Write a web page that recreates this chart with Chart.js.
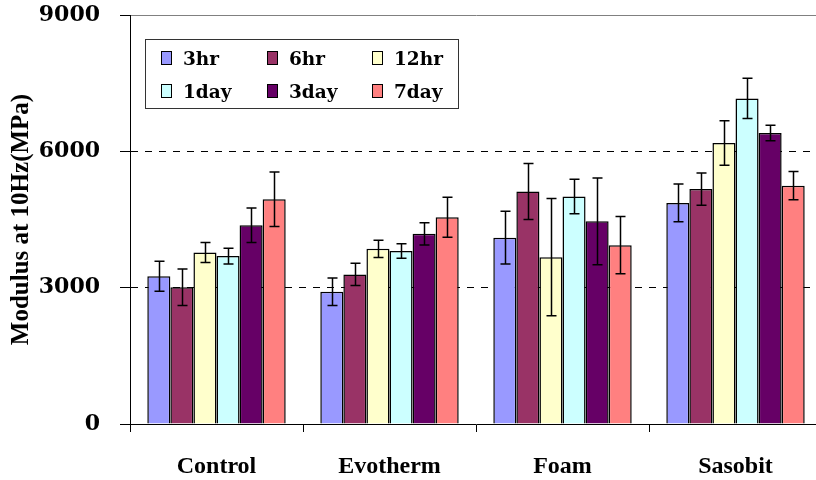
<!DOCTYPE html>
<html>
<head>
<meta charset="utf-8">
<title>Modulus at 10Hz</title>
<script src="https://cdn.jsdelivr.net/npm/chart.js@4"></script>
<style>
    html, body { margin: 0; padding: 0; background: #fff; overflow: hidden; }
    #wrap { width: 816px; height: 480px; overflow: hidden; }
</style>
</head>
<body>
<div id="wrap"><canvas id="chart" width="824" height="480"></canvas></div>
<script>
///////////////////////////////////////////////////////////////////////////////
// data
const categories   = ["Control", "Evotherm", "Foam", "Sasobit"];
const seriesLabels = ["3hr", "6hr", "12hr", "1day", "3day", "7day"];
const seriesColors = ["#9999FF", "#993366", "#FFFFCC", "#CCFFFF", "#660066", "#FF8080"];

// mean values (MPa)
const hr3  = [3250, 2910, 4100, 4865];
const hr6  = [3010, 3290, 5115, 5170];
const hr12 = [3775, 3855, 3670, 6185];
const day1 = [3695, 3805, 5005, 7165];
const day3 = [4375, 4185, 4460, 6405];
const day7 = [4945, 4550, 3935, 5245];

// error bar half-lengths (MPa)
const hr3Err  = [330, 300, 580, 415];
const hr6Err  = [400, 245, 615, 355];
const hr12Err = [220, 190, 1290, 490];
const day1Err = [175, 160, 380, 445];
const day3Err = [380, 245, 955, 170];
const day7Err = [600, 440, 630, 310];

const yTicks = [0, 3000, 6000, 9000];

const seriesValues = [hr3, hr6, hr12, day1, day3, day7];
const seriesErrors = [hr3Err, hr6Err, hr12Err, day1Err, day3Err, day7Err];


///////////////////////////////////////////////////////////////////////////////
// draws error bars on top of every bar, through the y scale
const errorBarPlugin =
{
    id: "errorBars",
    afterDatasetsDraw(chart)
    {
        let ctx = chart.ctx;
        let yScale = chart.scales.y;
        ctx.save();
        ctx.strokeStyle = "#000";
        ctx.lineWidth = 1.5;
        chart.data.datasets.forEach((ds, i) =>
        {
            let meta = chart.getDatasetMeta(i);
            meta.data.forEach((bar, j) =>
            {
                let v = ds.data[j];
                let e = ds.errors[j];
                let yHi = yScale.getPixelForValue(v + e);
                let yLo = yScale.getPixelForValue(v - e);
                let x = Math.round(bar.x) + 0.5;
                ctx.beginPath();
                ctx.moveTo(x, yHi);
                ctx.lineTo(x, yLo);
                ctx.moveTo(x - 5, yHi);
                ctx.lineTo(x + 5, yHi);
                ctx.moveTo(x - 5, yLo);
                ctx.lineTo(x + 5, yLo);
                ctx.stroke();
            });
        });
        ctx.restore();
    }
};

// boxed legend in the top-left of the plot, 3 columns x 2 rows
const boxLegendPlugin =
{
    id: "boxLegend",
    afterDraw(chart)
    {
        let ctx = chart.ctx;
        let colX = [161, 267, 372];
        let rowY = [58, 91];
        ctx.save();
        ctx.fillStyle = "#fff";
        ctx.fillRect(145, 39, 313, 69);
        ctx.strokeStyle = "#333";
        ctx.lineWidth = 1;
        ctx.strokeRect(145.5, 39.5, 313, 69);

        ctx.font = "bold 18.5px 'DejaVu Serif'";
        ctx.textBaseline = "alphabetic";
        chart.data.datasets.forEach((ds, i) =>
        {
            let x = colX[i % 3];
            let y = rowY[Math.floor(i / 3)];
            ctx.fillStyle = ds.backgroundColor;
            ctx.fillRect(x, y - 7, 11, 14);
            ctx.strokeStyle = "#000";
            ctx.strokeRect(x + 0.5, y - 6.5, 10, 13);
            ctx.fillStyle = "#000";
            ctx.fillText(ds.label, x + 22, y + 7);
        });
        ctx.restore();
    }
};


///////////////////////////////////////////////////////////////////////////////
document.addEventListener("DOMContentLoaded", e =>
{
    let context = document.getElementById("chart").getContext("2d");

    let datasets = seriesLabels.map((label, i) => ({
        label: label,
        data: seriesValues[i],
        errors: seriesErrors[i],
        backgroundColor: seriesColors[i],
        borderColor: "#000",
        borderWidth: 1.5,
        categoryPercentage: 0.8,
        barPercentage: 1.0
    }));

    new Chart(context,
    {
        type: "bar",
        data: { labels: categories, datasets: datasets },
        plugins: [errorBarPlugin, boxLegendPlugin],
        options:
        {
            responsive: false,
            animation: false,
            devicePixelRatio: 1,
            layout: { padding: { left: 0, right: 2, top: 15, bottom: 0 } },
            plugins:
            {
                legend: { display: false },
                tooltip: { enabled: false }
            },
            scales:
            {
                x:
                {
                    afterFit: s => { s.height = 56; s.paddingLeft = 0; s.paddingRight = 0; },
                    grid:
                    {
                        drawOnChartArea: false,
                        drawTicks: true,
                        tickLength: 8,
                        tickColor: "#000"
                    },
                    border: { display: true, color: "#000", width: 1 },
                    ticks:
                    {
                        color: "#000",
                        padding: 20,
                        font: { family: "'Liberation Serif'", size: 24, weight: "bold" }
                    }
                },
                y:
                {
                    min: 0,
                    max: 9000,
                    afterFit: s => { s.width = 130; s.paddingTop = 0; s.paddingBottom = 0; },
                    afterBuildTicks: s => { s.ticks = yTicks.map(v => ({ value: v })); },
                    grid:
                    {
                        color: c => (c.tick && c.tick.value === 9000) ? "#808080"
                                  : (c.tick && c.tick.value > 0) ? "#000" : "rgba(0,0,0,0)",
                        lineWidth: 1,
                        drawTicks: true,
                        tickLength: 10,
                        tickColor: "#000"
                    },
                    border:
                    {
                        display: true,
                        color: "#000",
                        width: 1,
                        dash: c => (c.tick && c.tick.value === 9000) ? [] : [7, 7]
                    },
                    ticks:
                    {
                        color: "#000",
                        padding: 20,
                        callback: v => String(v),
                        font: { family: "'DejaVu Serif'", size: 22, weight: "bold" }
                    },
                    title:
                    {
                        display: true,
                        text: "Modulus at 10Hz(MPa)",
                        color: "#000",
                        padding: { top: 7, bottom: 0 },
                        font: { family: "'Liberation Serif'", size: 25, weight: "bold" }
                    }
                }
            }
        }
    });
});
</script>
</body>
</html>
